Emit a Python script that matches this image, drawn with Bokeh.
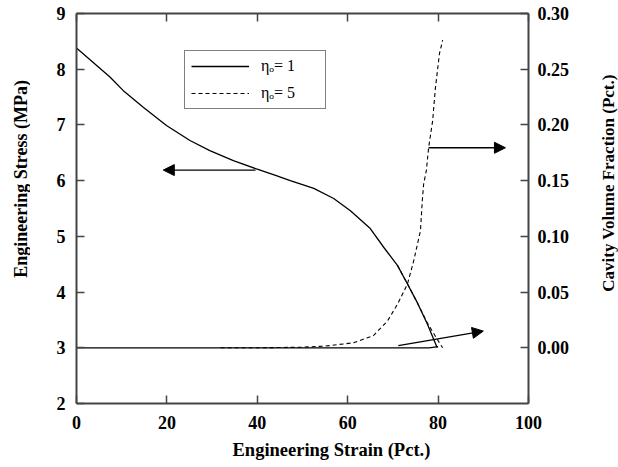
import math
from bokeh.plotting import figure
from bokeh.layouts import row
from bokeh.models import (Range1d, LinearAxis, FixedTicker, NumeralTickFormatter,
                          Arrow, NormalHead, Legend, LegendItem, Title, Label)
from bokeh.embed import file_html
from bokeh.resources import INLINE

# ---- data ----
strain_stress = [0, 4.4, 7.4, 10.3, 14.7, 19.9, 25.1, 29.5, 34.7, 39.8, 44.2, 47.3, 52.5, 56.9,
                 60.6, 65.0, 68.0, 71.0, 73.2, 75.4, 77.6, 79.8]
stress = [8.38, 8.07, 7.86, 7.62, 7.32, 6.99, 6.72, 6.54, 6.36, 6.21, 6.09, 6.00, 5.86, 5.68,
          5.46, 5.14, 4.80, 4.48, 4.15, 3.81, 3.43, 3.00]

strain_stress5 = [71.0, 73.2, 75.4, 77.6, 79.6, 81.0]
stress5 = [4.48, 4.15, 3.81, 3.45, 3.18, 3.0]

strain_cav1 = [0, 78, 80]
cav1 = [0.0, 0.0, 0.001]

strain_cav5 = [31.9, 40, 49.6, 55, 61.3, 65.7, 68.8, 71.0, 73.2, 74.6, 76.1, 76.5, 76.8, 77.4,
               77.9, 78.8, 79.4, 80.3, 81.0]
cav5 = [0.0, 0.0, 0.0005, 0.0015, 0.0045, 0.011, 0.024, 0.039, 0.057, 0.078, 0.105, 0.132, 0.147,
        0.159, 0.1795, 0.204, 0.233, 0.264, 0.276]

x_ticks = [0, 20, 40, 60, 80, 100]
y_ticks = [2, 3, 4, 5, 6, 7, 8, 9]
cav_ticks = [0.0, 0.05, 0.10, 0.15, 0.20, 0.25, 0.30]

# arrows: (x_start, y_start, x_end, y_end)
arrow_stress = (39.6, 6.19, 19.2, 6.19)
arrow_cav_a = (77.9, 0.1795, 94.9, 0.1795)
arrow_cav_b = (71.2, 0.002, 90.0, 0.015)

FONT = "Liberation Serif"
AXC = "#444444"
H = 467
LEFT_W = 30
RIGHT_W = 22
MAIN_W = 618 - LEFT_W - RIGHT_W

p = figure(width=MAIN_W, height=H, output_backend="svg", toolbar_location=None,
           x_range=Range1d(0, 100), y_range=Range1d(2, 9),
           min_border_left=76 - LEFT_W, min_border_right=MAIN_W + LEFT_W - 528,
           min_border_top=13, min_border_bottom=64)
p.extra_y_ranges = {"cav": Range1d(-0.05, 0.30)}
p.grid.visible = False
p.outline_line_color = None
p.background_fill_color = "white"
p.border_fill_color = "white"

def style(ax):
    ax.axis_line_color = AXC
    ax.axis_line_width = 2
    ax.major_tick_line_color = AXC
    ax.major_tick_line_width = 1.5
    ax.major_tick_in = 8
    ax.major_tick_out = 0
    ax.minor_tick_line_color = None
    ax.major_label_text_font = FONT
    ax.major_label_text_font_style = "bold"
    ax.major_label_text_font_size = "18px"
    ax.major_label_text_color = "black"

xa = p.xaxis[0]
style(xa)
xa.ticker = FixedTicker(ticks=x_ticks)
xa.major_label_standoff = 12

ya = p.yaxis[0]
style(ya)
ya.ticker = FixedTicker(ticks=y_ticks)
ya.major_label_standoff = 11

ra = LinearAxis(y_range_name="cav", ticker=FixedTicker(ticks=cav_ticks),
                formatter=NumeralTickFormatter(format="0.00"))
style(ra)
ra.major_label_standoff = 9
p.add_layout(ra, "right")

ta = LinearAxis(ticker=FixedTicker(ticks=x_ticks))
style(ta)
ta.major_label_text_font_size = "1px"
ta.major_label_text_color = None
ta.major_label_standoff = 0
p.add_layout(ta, "above")

p.add_layout(Title(text="Engineering Strain (Pct.)", align="left", offset=156, standoff=13,
                   text_font=FONT, text_font_style="bold", text_font_size="18.5px",
                   text_color="black"), "below")

# ---- curves ----
r1 = p.line(strain_stress, stress, line_color="black", line_width=1.3)
p.line(strain_stress5, stress5, line_color="black", line_width=1.1, line_dash="4 3")
p.line(strain_cav1, cav1, y_range_name="cav", line_color="black", line_width=1.3)
r5 = p.line(strain_cav5, cav5, y_range_name="cav", line_color="black", line_width=1.1, line_dash="4 3")

# ---- arrows ----
def add_arrow(a, rng):
    p.add_layout(Arrow(x_start=a[0], y_start=a[1], x_end=a[2], y_end=a[3],
                       y_range_name=rng, line_color="black", line_width=1.3,
                       end=NormalHead(size=11, fill_color="black", line_color="black")))

add_arrow(arrow_stress, "default")
add_arrow(arrow_cav_a, "cav")
add_arrow(arrow_cav_b, "cav")

legend = Legend(items=[LegendItem(label="ηₒ= 1", renderers=[r1]),
                       LegendItem(label="ηₒ= 5", renderers=[r5])],
                location=(108, 294), orientation="vertical",
                border_line_color="black", border_line_width=1.2,
                background_fill_alpha=1, label_text_font=FONT,
                label_text_color="black",
                label_text_font_size="16px", glyph_width=58, glyph_height=18,
                label_height=18, label_width=58, spacing=9, padding=6, label_standoff=12,
                margin=0)
p.add_layout(legend, "center")

# ---- side strips carrying the rotated axis titles ----
def side_strip(w, text, cx, cy, size):
    s = figure(width=w, height=H, output_backend="svg", toolbar_location=None,
               x_range=Range1d(0, w), y_range=Range1d(0, H),
               x_axis_location=None, y_axis_location=None,
               min_border=0, min_border_left=0, min_border_right=0,
               min_border_top=0, min_border_bottom=0)
    s.grid.visible = False
    s.outline_line_color = None
    s.add_layout(Label(x=cx, y=H - cy, text=text, angle=math.pi / 2,
                       text_align="center", text_baseline="middle",
                       text_font=FONT, text_font_style="bold", text_font_size=size,
                       text_color="black"))
    return s

left = side_strip(LEFT_W, "Engineering Stress (MPa)", 20, 198, "18px")
right = side_strip(RIGHT_W, "Cavity Volume Fraction (Pct.)", 608 - (618 - RIGHT_W), 203, "17px")

layout = row(left, p, right, spacing=0)
open("out.html", "w").write(file_html(layout, INLINE))
